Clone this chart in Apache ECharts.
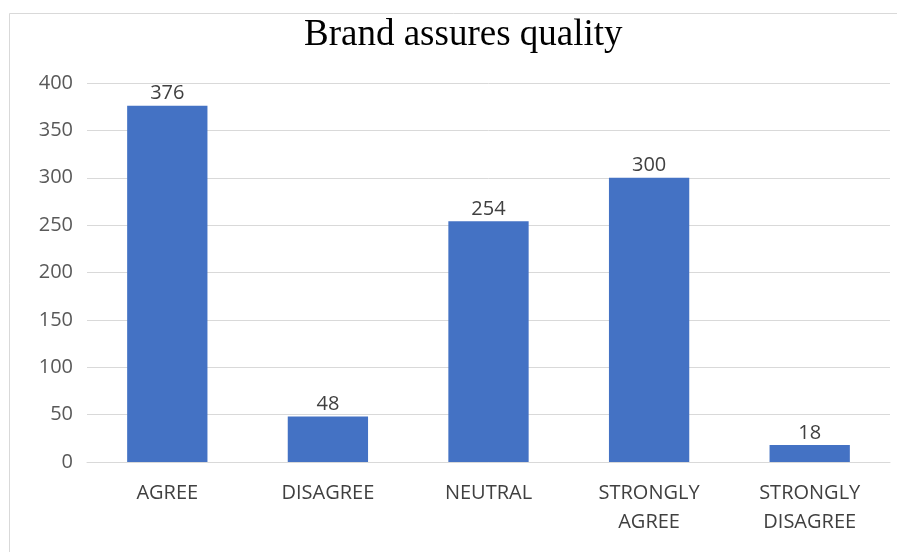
<!DOCTYPE html>
<html><head><meta charset="utf-8">
<script src="https://cdn.jsdelivr.net/npm/echarts@6/dist/echarts.min.js"></script>
<style>html,body{margin:0;padding:0;background:#fff}#c{width:897px;height:552px}</style>
</head><body><div id="c"></div>
<script>
const categories = ["AGREE", "DISAGREE", "NEUTRAL", "STRONGLY\nAGREE", "STRONGLY\nDISAGREE"];
const values = [376, 48, 254, 300, 18];
const titleText = "Brand assures quality";

const chart = echarts.init(document.getElementById('c'), null, {renderer: 'canvas'});
chart.setOption({
  animation: false,
  backgroundColor: '#fff',
  graphic: [{
    type: 'rect', shape: {x: 9.5, y: 13.5, width: 1000, height: 1000},
    style: {fill: 'none', stroke: '#d9d9d9', lineWidth: 1}, silent: true, z: -1
  }],
  title: {
    text: titleText, left: 299, top: 12,
    textStyle: {fontFamily: 'Liberation Serif', fontSize: 37, fontWeight: 'normal', color: '#000'}
  },
  grid: {left: 87, right: 7, top: 83, bottom: 90, containLabel: false},
  xAxis: {
    type: 'category', data: categories,
    axisLine: {show: true, lineStyle: {color: '#d9d9d9', width: 1}},
    axisTick: {show: false},
    axisLabel: {fontFamily: 'Open Sans', fontSize: 20, color: '#404040', margin: 17, lineHeight: 29, interval: 0}
  },
  yAxis: {
    type: 'value', min: 0, max: 400, interval: 50,
    axisLine: {show: false}, axisTick: {show: false},
    splitLine: {lineStyle: {color: '#d9d9d9', width: 1}},
    axisLabel: {fontFamily: 'Open Sans', fontSize: 20, color: '#595959', margin: 14}
  },
  series: [{
    type: 'bar', data: values, barWidth: '50%',
    itemStyle: {color: '#4472C4'},
    label: {show: true, position: 'top', fontFamily: 'Open Sans', fontSize: 20, color: '#404040', distance: 2}
  }]
});
</script></body></html>
